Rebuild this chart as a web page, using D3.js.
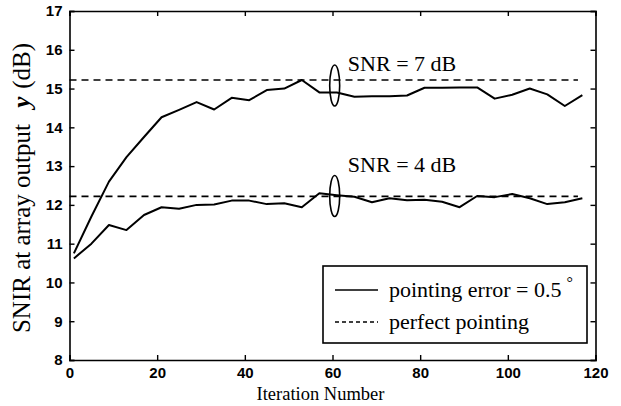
<!DOCTYPE html>
<html>
<head>
<meta charset="utf-8">
<script src="https://cdn.jsdelivr.net/npm/d3@7"></script>
<style>
body{margin:0;background:#fff;}
svg{display:block;}
.serif{font-family:"Liberation Serif","Times New Roman",Times,serif;}
.sans{font-family:"Liberation Sans",Arial,Helvetica,sans-serif;}
</style>
</head>
<body>
<svg id="chart"></svg>
<script>
//iterations the curves were sampled at
var iterations=[1,5,9,13,17,21,25,29,33,37,41,45,49,53,57,61,65,69,73,77,81,85,89,93,97,101,105,109,113,117];
//pointing error = 0.5 deg, SNR = 7 dB
var snr7=[10.75,11.7,12.6,13.23,13.75,14.26,14.45,14.65,14.46,14.76,14.7,14.96,15.0,15.22,14.9,14.9,14.79,14.8,14.8,14.82,15.02,15.02,15.03,15.03,14.74,14.84,15.0,14.85,14.55,14.83];
//pointing error = 0.5 deg, SNR = 4 dB
var snr4=[10.62,11.0,11.48,11.35,11.74,11.94,11.9,12.0,12.01,12.11,12.11,12.02,12.04,11.94,12.3,12.25,12.21,12.07,12.17,12.12,12.13,12.08,11.94,12.23,12.2,12.28,12.17,12.02,12.07,12.17];
//perfect pointing
var perfectIter=[0,116];
var perfect7=[15.22,15.22];
var perfect4=[12.22,12.22];
//annotations
var snrLabels=["SNR = 7 dB","SNR = 4 dB"];
var snrLabelPos=[{iter:63.5,snir:15.45},{iter:63.5,snir:12.85}];
var ovals=[{iter:60.5,snir:15.08},{iter:60.5,snir:12.23}];
var xTicks=[0,20,40,60,80,100,120];
var yTicks=[8,9,10,11,12,13,14,15,16,17];
var legendLabels=["pointing error = 0.5","perfect pointing"];

var size={width:621,height:406};
var svg=d3.select("#chart")
    .attr("width",size.width)
    .attr("height",size.height);

var xScale=d3.scaleLinear().domain([0,120]).range([69.5,595.5]);
var yScale=d3.scaleLinear().domain([8,17]).range([360,11]);

var makeLine=function(xs,ys){
    return d3.line()
        .x(function(d,i){return xScale(xs[i]);})
        .y(function(d){return yScale(d);})(ys);
};

//dashed perfect pointing lines
[perfect7,perfect4].forEach(function(vals){
    svg.append("path")
        .attr("d",makeLine(perfectIter,vals))
        .attr("fill","none")
        .attr("stroke","#000")
        .attr("stroke-width",1.6)
        .attr("stroke-dasharray","7,5");
});

//solid curves
[snr7,snr4].forEach(function(vals){
    svg.append("path")
        .attr("d",makeLine(iterations,vals))
        .attr("fill","none")
        .attr("stroke","#000")
        .attr("stroke-width",2)
        .attr("stroke-linejoin","round");
});

//ovals round the curves at 60
svg.selectAll("ellipse.oval")
    .data(ovals)
    .enter()
    .append("ellipse")
    .attr("class","oval")
    .attr("cx",function(d){return xScale(d.iter);})
    .attr("cy",function(d){return yScale(d.snir);})
    .attr("rx",5)
    .attr("ry",20.5)
    .attr("fill","none")
    .attr("stroke","#000")
    .attr("stroke-width",1.6);

svg.selectAll("text.snr")
    .data(snrLabels)
    .enter()
    .append("text")
    .attr("class","snr serif")
    .attr("x",function(d,i){return xScale(snrLabelPos[i].iter);})
    .attr("y",function(d,i){return yScale(snrLabelPos[i].snir);})
    .style("font-size","22px")
    .text(function(d){return d;});

//axes: bottom, left, top, right with ticks inside
var axisG=svg.append("g");
var bottomAxis=d3.axisBottom(xScale).tickValues(xTicks).tickSize(-5).tickPadding(7);
var leftAxis=d3.axisLeft(yScale).tickValues(yTicks).tickSize(-5).tickPadding(7);
var topAxis=d3.axisTop(xScale).tickValues(xTicks).tickSize(-5).tickFormat("");
var rightAxis=d3.axisRight(yScale).tickValues(yTicks).tickSize(-5).tickFormat("");

axisG.append("g").attr("transform","translate(0,360)").call(bottomAxis);
axisG.append("g").attr("transform","translate(69.5,0)").call(leftAxis);
axisG.append("g").attr("transform","translate(0,11)").call(topAxis);
axisG.append("g").attr("transform","translate(595.5,0)").call(rightAxis);

axisG.selectAll("path.domain").attr("stroke","#000").attr("stroke-width",1.6);
axisG.selectAll(".tick line").attr("stroke","#000").attr("stroke-width",1.4);
axisG.selectAll(".tick text")
    .attr("class","sans")
    .attr("fill","#000")
    .attr("font-family",null)
    .style("font-weight","bold")
    .style("font-size","15px");

//legend
var legend=svg.append("g");
legend.append("rect")
    .attr("x",323).attr("y",266)
    .attr("width",264).attr("height",77)
    .attr("fill","#fff")
    .attr("stroke","#000")
    .attr("stroke-width",1.6);
legend.selectAll("line.key")
    .data(legendLabels)
    .enter()
    .append("line")
    .attr("class","key")
    .attr("x1",335).attr("x2",378)
    .attr("y1",function(d,i){return 290+i*32;})
    .attr("y2",function(d,i){return 290+i*32;})
    .attr("stroke","#000")
    .attr("stroke-width",function(d,i){return i==0?1.6:1.4;})
    .attr("stroke-dasharray",function(d,i){return i==0?null:"4,3";});
var legendText=legend.selectAll("text.key")
    .data(legendLabels)
    .enter()
    .append("text")
    .attr("class","key serif")
    .attr("x",389)
    .attr("y",function(d,i){return 297+i*32;})
    .style("font-size","22px")
    .text(function(d){return d;});
legendText.filter(function(d,i){return i==0;})
    .append("tspan")
    .attr("dx",5)
    .attr("dy",-9)
    .style("font-size","16px")
    .text("\u00b0");

//axis titles
svg.append("text")
    .attr("class","serif")
    .attr("x",(xScale(0)+xScale(120))/2-12)
    .attr("y",400)
    .attr("text-anchor","middle")
    .style("font-size","18.5px")
    .text("Iteration Number");

var ylab=svg.append("text")
    .attr("class","serif")
    .attr("transform","translate(30,188) rotate(-90)")
    .attr("text-anchor","middle")
    .style("font-size","25px");
ylab.append("tspan").text("SNIR at array output ");
ylab.append("tspan").attr("dx",10).style("font-weight","bold").style("font-style","italic").text("y");
ylab.append("tspan").attr("dx",8).text("(dB)");
</script>
</body>
</html>
